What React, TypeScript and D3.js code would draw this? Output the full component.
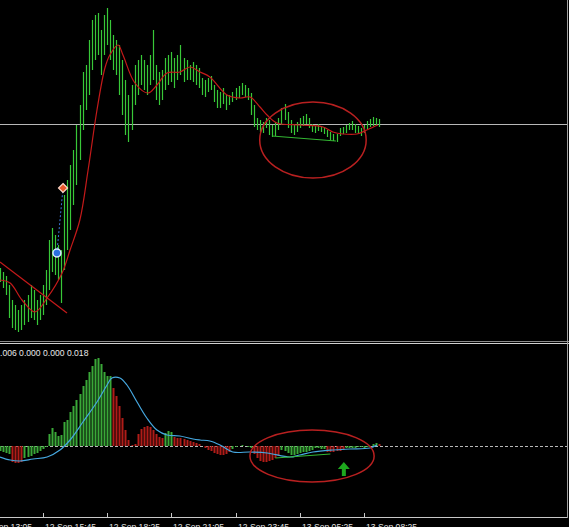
import React, { useEffect, useRef } from "react";
import * as d3 from "d3";

// price bars (points above the pane floor), one per bar
const barHigh = [
  72, 68, 64, 55, 40, 35, 30, 35, 40, 45, 55, 50, 40, 45, 55, 70, 100, 112, 105, 95,
  90, 145, 160, 175, 190, 215, 235, 268, 275, 300, 320, 325, 327, 310, 325, 332, 320, 305, 300, 295,
  280, 260, 245, 255, 275, 280, 285, 280, 275, 285, 310, 275, 268, 270, 282, 285, 288, 282, 285, 295,
  282, 280, 275, 278, 275, 272, 262, 260, 262, 264, 255, 250, 248, 252, 245, 245, 248, 252, 254, 257,
  255, 252, 247, 235, 222, 220, 218, 222, 220, 215, 218, 222, 232, 236, 228, 220, 216, 218, 222, 224,
  226, 222, 216, 214, 216, 214, 213, 210, 208, 206, 206, 212, 213, 215, 217, 219, 216, 214, 212, 215,
  219, 221, 223, 222, 221,
];
const barLow = [
  58, 52, 45, 22, 12, 10, 8, 10, 15, 18, 22, 20, 15, 20, 25, 35, 50, 68, 65, 60,
  37, 70, 90, 110, 135, 155, 180, 210, 230, 245, 270, 280, 285, 265, 285, 295, 280, 270, 265, 245,
  225, 205, 198, 210, 235, 245, 255, 250, 245, 255, 260, 240, 235, 240, 250, 255, 258, 252, 260, 265,
  258, 260, 260, 258, 255, 252, 245, 243, 248, 250, 238, 232, 232, 236, 230, 235, 238, 240, 242, 245,
  243, 240, 225, 213, 210, 208, 207, 212, 205, 203, 204, 210, 215, 220, 212, 207, 205, 208, 212, 214,
  216, 212, 208, 207, 209, 208, 206, 203, 200, 199, 198, 204, 206, 207, 210, 210, 207, 206, 204, 207,
  211, 213, 214, 215, 213,
];

// moving average knots [bar, price]
const maIdx = [0, 3.3, 7.2, 11.4, 15.4, 20.3, 22.9, 26.1, 28.8, 31.7, 34.3, 35.9, 38.6, 40.2, 44.1, 48.4, 51.3, 54.6, 58.8, 62.1, 65.4, 68.6, 74.2, 78.4, 81.7, 85, 87.3, 90.5, 98, 105.6, 108.8, 112.1, 116.7, 119.9, 123.5];
const maVal = [60, 57, 40, 28, 42, 67, 90, 120, 170, 230, 272, 285, 295, 285, 257, 247, 255, 267, 268, 273, 268, 263, 245, 242, 243, 233, 225, 217, 215, 213, 208, 206, 206, 210, 215];

const levelPrice = 216;

// MACD histogram, one per bar
const hist = [
  -5, -6, -7, -8, -16, -17, -17, -16, -12, -11, -10, -8, -7, -5, -3, -1,
  12, 18, 14, 10, 11, 24, 26, 34, 40, 46, 52, 60, 66, 74, 80, 87, 88, 82, 74, 70, 70,
  58, 50, 40, 28, 16, 6, 1, 2, 12, 17, 19, 20, 19, 16, 12, 9, 8,
  13, 15, 14,
  9, 8, 8, 7, 6, 5, 4, 3, 2,
  0, -2, -4, -5, -7, -8, -9, -9, -8, -6,
  -3, -1, 0, 1, 0, -1, -2,
  -8, -12, -15, -16, -16, -15, -14, -12, -10,
  -4, -5, -7, -9, -9, -8, -7, -6, -6, -5, -4,
  -2, -2, -3, -3,
  -6, -6, -6, -5, -5, -4,
  -2, -2, -2, -2, -1, -1, -2, -1, 0, 2, 3, 2,
];
// signal line knots
const sigIdx = [0, 3.3, 6.5, 10.8, 15.4, 19.6, 22.9, 27.1, 31.7, 35, 36.6, 39.2, 41.5, 44.8, 48, 51.3, 54.6, 58.8, 63.1, 65.4, 68.6, 71.9, 76.1, 81.7, 87.3, 94.8, 98, 102.3, 108.8, 114.4, 120.9, 123.2];
const sigVal = [-11, -14, -15, -13, -11, -4, 6, 24, 44, 61, 68, 68, 61, 44, 28, 16, 11, 10, 7, 6, 5, 1, -6, -6, -7, -11, -9, -6, -4, -3, -2, 1];

// drawn objects
const redTrend = [[0, 78], [21.9, 27]];
const greenTrend = [[88.9, 204], [109.8, 199]];
const greenTrendMacd = [[90, -12], [108, -8]];
const tradeOpen = [18.6, 87];
const tradeClose = [20.6, 152];
const ellipseIdx = [102.3, 102];
const ellipseVal = [200, -10];
const ellipseRx = [17.4, 20.3];
const ellipseRy = [38, 26];
const arrowAt = [112.4, -23];

const tickIdx = [-7, 14, 35, 56, 77, 98, 119];
const tickLabels = ["12 Sep 13:05", "12 Sep 15:45", "12 Sep 18:25", "12 Sep 21:05", "12 Sep 23:45", "13 Sep 05:25", "13 Sep 08:25"];
const macdLabel = ".006 0.000 0.000 0.018";

export default function App() {
  const ref = useRef<SVGSVGElement>(null);

  useEffect(() => {
    const W = 569;
    const H = 527;
    const svg = d3.select(ref.current);
    svg.selectAll("*").remove();

    const x = d3.scaleLinear().domain([0, 186]).range([0, W]);
    const yP = d3.scaleLinear().domain([0, 340]).range([340, 0]);
    const yM = d3.scaleLinear().domain([-65, 101]).range([511, 345]);
    const px = (i: number) => Math.round(x(i)) + 0.5;

    svg.append("rect").attr("width", W).attr("height", H).attr("fill", "#000");

    const defs = svg.append("defs");
    defs.append("clipPath").attr("id", "topClip").append("rect").attr("width", W).attr("height", 340);
    defs.append("clipPath").attr("id", "botClip").append("rect").attr("y", 345).attr("width", W).attr("height", 168);

    // ---- price pane
    const top = svg.append("g").attr("clip-path", "url(#topClip)");
    top.append("line")
      .attr("x1", 0).attr("x2", 567)
      .attr("y1", Math.round(yP(levelPrice)) + 0.5).attr("y2", Math.round(yP(levelPrice)) + 0.5)
      .attr("stroke", "#b8b8b8");

    top.append("g").selectAll("line").data(barHigh).join("line")
      .attr("x1", (_, i) => px(i)).attr("x2", (_, i) => px(i))
      .attr("y1", (d) => yP(d)).attr("y2", (_, i) => yP(barLow[i]))
      .attr("stroke", "#38c838").attr("stroke-width", 1.2);

    const ma = d3.line<number>().x((_, i) => x(maIdx[i])).y((d) => yP(d)).curve(d3.curveCatmullRom);
    top.append("path").datum(maVal).attr("d", ma)
      .attr("fill", "none").attr("stroke", "#c41a1a").attr("stroke-width", 1.2);

    const seg = d3.line<number[]>().x((d) => x(d[0])).y((d) => yP(d[1]));
    top.append("path").datum(redTrend).attr("d", seg).attr("stroke", "#c41a1a").attr("stroke-width", 1.2).attr("fill", "none");
    top.append("path").datum(greenTrend).attr("d", seg).attr("stroke", "#33b833").attr("stroke-width", 1).attr("fill", "none");

    top.append("line")
      .attr("x1", x(tradeOpen[0])).attr("y1", yP(tradeOpen[1]))
      .attr("x2", x(tradeClose[0])).attr("y2", yP(tradeClose[1]))
      .attr("stroke", "#3a78d8").attr("stroke-dasharray", "2,2");
    top.append("circle")
      .attr("cx", x(tradeOpen[0])).attr("cy", yP(tradeOpen[1])).attr("r", 4)
      .attr("fill", "#2a70e0").attr("stroke", "#d8e8ff").attr("stroke-width", 1.5);
    const dx = x(tradeClose[0]);
    const dy = yP(tradeClose[1]);
    top.append("path")
      .attr("d", `M${dx},${dy - 4.5}L${dx + 4.5},${dy}L${dx},${dy + 4.5}L${dx - 4.5},${dy}Z`)
      .attr("fill", "#e8582a").attr("stroke", "#ffd8c8").attr("stroke-width", 1.2);

    top.append("ellipse")
      .attr("cx", x(ellipseIdx[0])).attr("cy", yP(ellipseVal[0]))
      .attr("rx", x(ellipseRx[0]) - x(0)).attr("ry", yP(0) - yP(ellipseRy[0]))
      .attr("fill", "none").attr("stroke", "#b82020").attr("stroke-width", 1.5);

    // ---- separator
    svg.append("line").attr("x1", 0).attr("x2", W).attr("y1", 341.5).attr("y2", 341.5).attr("stroke", "#8a8a8a");
    svg.append("line").attr("x1", 0).attr("x2", W).attr("y1", 343.5).attr("y2", 343.5).attr("stroke", "#d0d0d0");

    // ---- MACD pane
    const bot = svg.append("g").attr("clip-path", "url(#botClip)");
    const z = Math.round(yM(0)) + 0.5;
    bot.append("line").attr("x1", 0).attr("x2", 567).attr("y1", z).attr("y2", z)
      .attr("stroke", "#b8b8b8").attr("stroke-dasharray", "3,2");

    const sigAt = d3.scaleLinear().domain(sigIdx).range(sigVal);
    bot.append("g").selectAll("rect").data(hist).join("rect")
      .attr("x", (_, i) => Math.round(x(i)) - 0.5)
      .attr("width", 2)
      .attr("y", (d) => Math.min(yM(d), yM(0)))
      .attr("height", (d) => Math.abs(yM(d) - yM(0)))
      .attr("fill", (d, i) => (d >= sigAt(i) ? "#3aa838" : "#b01c18"));

    const sig = d3.line<number>().x((_, i) => x(sigIdx[i])).y((d) => yM(d)).curve(d3.curveCatmullRom);
    bot.append("path").datum(sigVal).attr("d", sig)
      .attr("fill", "none").attr("stroke", "#46a8e0").attr("stroke-width", 1.2);

    const segM = d3.line<number[]>().x((d) => x(d[0])).y((d) => yM(d[1]));
    bot.append("path").datum(greenTrendMacd).attr("d", segM).attr("stroke", "#33b833").attr("fill", "none");

    bot.append("ellipse")
      .attr("cx", x(ellipseIdx[1])).attr("cy", yM(ellipseVal[1]))
      .attr("rx", x(ellipseRx[1]) - x(0)).attr("ry", yM(0) - yM(ellipseRy[1]))
      .attr("fill", "none").attr("stroke", "#b82020").attr("stroke-width", 1.5);

    const ax = x(arrowAt[0]);
    const ay = yM(arrowAt[1]);
    bot.append("path")
      .attr("d", `M${ax},${ay - 7}L${ax + 6},${ay}L${ax + 2},${ay}L${ax + 2},${ay + 7}L${ax - 2},${ay + 7}L${ax - 2},${ay}L${ax - 6},${ay}Z`)
      .attr("fill", "#1ea81e");

    svg.append("text").attr("x", 0).attr("y", 356)
      .attr("fill", "#e8e8e8").attr("font-family", "Liberation Sans, Arial, sans-serif").attr("font-size", 8.6)
      .text(macdLabel);

    // ---- time axis
    svg.append("line").attr("x1", 0).attr("x2", 567).attr("y1", 517.5).attr("y2", 517.5).attr("stroke", "#c8c8c8");
    svg.append("line").attr("x1", 567.5).attr("x2", 567.5).attr("y1", 0).attr("y2", 518).attr("stroke", "#a0a0a0");
    const ticks = svg.append("g");
    tickIdx.forEach((t, k) => {
      const tx = Math.round(x(t)) + 0.5;
      ticks.append("line").attr("x1", tx).attr("x2", tx).attr("y1", 513).attr("y2", 517).attr("stroke", "#c8c8c8");
      ticks.append("text").attr("x", tx + 1.5).attr("y", 529.5)
        .attr("fill", "#e0e0e0").attr("font-family", "Liberation Sans, Arial, sans-serif").attr("font-size", 8.6)
        .text(tickLabels[k]);
    });
  }, []);

  return (
    <svg
      ref={ref}
      width={569}
      height={527}
      style={{ position: "absolute", left: 0, top: 0, display: "block" }}
    />
  );
}
